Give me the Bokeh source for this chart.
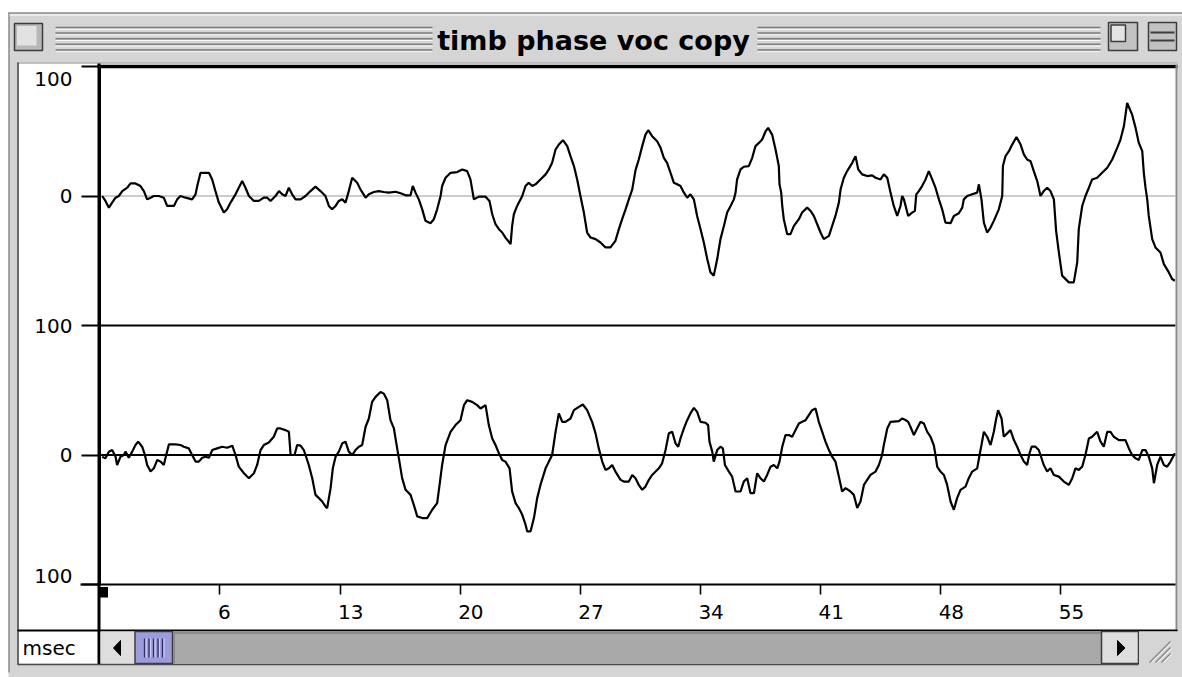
from bokeh.plotting import figure
from bokeh.models import Range1d, LinearAxis, FixedTicker
from bokeh.core.properties import value
from bokeh.embed import file_html
from bokeh.resources import INLINE

# ---------------- data ----------------
title_text = "timb phase voc copy"
x_unit_label = "msec"
x_tick_values = [6, 13, 20, 27, 34, 41, 48, 55]
x_tick_labels = ["6", "13", "20", "27", "34", "41", "48", "55"]
# stacked display: upper channel centred at +100, lower channel centred at -100
y_tick_values = [200, 100, 0, -100, -200]
y_tick_labels = ["100", "0", "100", "0", "100"]

upper_ms = [
    -0.86, -0.67, -0.47, -0.28, -0.08, 0.11, 0.31, 0.60, 0.79, 1.08,
    1.37, 1.57, 1.76, 1.96, 2.15, 2.44, 2.73, 2.93, 3.32, 3.51,
    3.70, 4.00, 4.38, 4.58, 4.68, 4.87, 5.36, 5.55, 5.74, 5.94,
    6.23, 6.42, 6.62, 6.91, 7.10, 7.30, 7.49, 7.69, 7.98, 8.27,
    8.56, 8.76, 8.95, 9.24, 9.44, 9.63, 9.82, 10.02, 10.21, 10.41,
    10.70, 10.99, 11.28, 11.57, 11.86, 12.15, 12.35, 12.54, 12.74, 12.93,
    13.13, 13.32, 13.51, 13.71, 14.00, 14.19,
    14.49, 14.68, 14.97, 15.26, 15.55, 15.85, 16.23, 16.53, 16.82, 17.11,
    17.24, 17.40, 17.59, 17.79, 17.98, 18.27, 18.47, 18.66, 18.86, 18.95,
    19.15, 19.44, 19.83, 20.12, 20.41, 20.60, 20.70, 20.80, 21.09, 21.48,
    21.71, 21.87, 22.06, 22.26, 22.45, 22.64, 22.94, 23.03, 23.13, 23.32,
    23.62, 23.81, 24.00, 24.20, 24.39, 24.68, 24.98, 25.17, 25.36, 25.56,
    25.75, 25.99, 26.24, 26.43, 26.63, 26.82, 27.01, 27.21, 27.40, 27.60,
    27.89, 28.18, 28.47, 28.76, 29.05, 29.25, 29.44, 29.64, 29.83, 30.03,
    30.22, 30.41, 30.61, 30.80, 30.96, 31.19, 31.48, 31.68, 31.87, 32.06,
    32.26, 32.45, 32.65, 32.84, 33.04, 33.23, 33.42, 33.62, 33.81, 34.01,
    34.20, 34.40, 34.59, 34.78, 34.98, 35.17, 35.37, 35.56, 35.76, 35.95,
    36.05, 36.14, 36.34, 36.53, 36.82, 37.02, 37.21, 37.41, 37.60, 37.80,
    37.95, 38.18, 38.38, 38.57, 38.61, 38.71, 38.77, 38.86, 39.06, 39.25,
    39.45, 39.74, 39.93, 40.22, 40.42, 40.61, 40.81, 41.00, 41.19, 41.49,
    41.68, 41.87, 42.07, 42.17, 42.36, 42.55, 42.85, 43.04, 43.20, 43.43,
    43.72, 44.01, 44.21, 44.50, 44.69, 44.89, 45.08, 45.27, 45.47, 45.66,
    45.76, 45.86,
    46.11, 46.34, 46.50, 46.58, 46.73, 46.92, 47.12, 47.31, 47.51, 47.70,
    47.90, 48.09, 48.28, 48.58, 48.77, 49.06, 49.26, 49.35, 49.55, 49.84,
    50.13, 50.23, 50.38, 50.52, 50.71, 50.91, 51.10, 51.39, 51.59, 51.63,
    51.78, 51.98, 52.17, 52.42, 52.66, 52.85, 53.04, 53.24, 53.43, 53.63,
    53.82, 54.01, 54.21, 54.40, 54.60, 54.73, 54.89, 55.08, 55.47, 55.76,
    55.96, 56.05, 56.25, 56.44, 56.64, 56.83, 57.12, 57.41, 57.71, 58.00,
    58.29, 58.48, 58.68, 58.87, 59.16, 59.36, 59.55, 59.75, 59.84, 59.94,
    60.04, 60.13, 60.33, 60.52, 60.81, 61.01, 61.30, 61.49, 61.65,
]
upper_amp = [
    0, -3.8, -9, -5.1, -1.3, 0, 3.8, 6.4, 9.7, 9.7,
    7.7, 3.8, -2.6, -1.3, 0, 0, -1.3, -7.7, -7.7, -2.6,
    0, -1.3, -2.6, 1.3, 7.7, 17.9, 17.9, 12.8, 3.8, -5.1,
    -12.8, -10.3, -5.1, 1.3, 6.4, 11.5, 6.4, 0, -3.8, -3.8,
    -1.3, -1.3, -3.8, 0, 3.8, 1.3, 0, 6.4, 1.3, -2.6,
    -2.6, 0, 3.8, 7.2, 3.8, 0, -7.7, -10.3, -7.7, -3.8,
    -2.6, -5.1, 3.8, 14.1, 10.3, 5.1,
    -1.3, 1.3, 3.1, 3.8, 3.1, 2.6, 3.3, 2.1, 0.5, 0.5,
    7.7, 2.6, -2.6, -10.3, -19.2, -21, -17.9, -10.3, 0, 7.7,
    14.1, 17.9, 18.5, 20.5, 19.2, 12.8, 5.1, -2.6, -0.5, -0.5,
    -3.8, -14.1, -21.8, -25.6, -28.2, -32.1, -37.2, -23.1, -14.1, -7.7,
    0, 7.7, 10.3, 7.7, 9, 12.8, 16.7, 20.5, 25.6, 35.9,
    39.7, 43.1, 38.5, 30.8, 23.1, 12.8, 0, -12.8, -28.2, -32.1,
    -33.3, -35.9, -39.7, -39.7, -34.6, -25.6, -17.9, -10.3, -2.6, 5.1,
    20, 28.2, 38.5, 47.4, 50.8, 46.2, 42.3, 37.2, 29.5, 25.6,
    17.9, 10.3, 9, 7.7, 2.6, -1.3, 1.3, -2.6, -15.4, -25.6,
    -35.9, -48.7, -59, -61.5, -48.7, -33.3, -23.1, -12.8, -7.7, -2.6,
    2.6, 12.8, 20.5, 22.6, 23.1, 29.5, 38.5, 41, 43.6, 50,
    52.6, 47.4, 35.9, 23.1, 9, 2.6, -7.7, -17.9, -29.5, -29.5,
    -23.1, -17.9, -12.8, -9, -11.5, -15.4, -21.8, -28.2, -33.3, -30.8,
    -23.1, -15.4, -5.1, 5.1, 14.1, 19.2, 25.6, 30.8, 20.5, 16.7,
    15.4, 15.9, 14.1, 12.8, 16.7, 14.1, 2.6, -7.7, -15.4, -7.7,
    0, -2.6,
    -15.4, -12.8, -11.5, 1.3, 3.8, 7.7, 12.8, 19.2, 12.8, 6.4,
    -2.6, -10.3, -20.5, -21, -15.4, -13.3, -9, -2.6, 0, 1.3,
    2.6, 9, -2.6, -20.5, -28.2, -24.4, -19.2, -10.3, 0, 23.1,
    30.8, 34.6, 39.7, 45.6, 39.7, 32.1, 28.2, 26.9, 19.2, 11.5,
    0, 3.8, 6.4, 3.8, -2.6, -26.9, -43.6, -61.5, -66.7, -66.7,
    -51.3, -25.6, -7.7, 0, 6.4, 12.8, 14.1, 17.9, 21.8, 28.2,
    37.2, 43.6, 53.8, 71.8, 62.8, 52.6, 41, 34.6, 17.9, 6.4,
    -2.6, -15.4, -33.3, -39.7, -43.6, -52.6, -59, -64.1, -65.4,
]

lower_ms = [
    -0.86, -0.67, -0.47, -0.28, -0.08, 0.01, 0.21, 0.40, 0.50, 0.69,
    0.89, 1.08, 1.24, 1.47, 1.63, 1.76, 1.96, 2.15, 2.35, 2.54,
    2.73, 2.87, 3.03, 3.41, 3.70, 3.90, 4.19, 4.38, 4.58, 4.77,
    4.97, 5.16, 5.36, 5.55, 5.84, 6.13, 6.42, 6.72, 6.91, 7.10,
    7.40, 7.69, 7.98, 8.17, 8.37, 8.56, 8.85, 9.14, 9.34, 9.53,
    9.82, 10.02, 10.12, 10.35, 10.50, 10.70, 10.89, 10.99, 11.18, 11.38,
    11.57, 11.77, 11.96, 12.15, 12.25, 12.45, 12.58, 12.74, 12.93, 13.13,
    13.32, 13.51, 13.71, 13.90, 14.10, 14.29,
    14.49, 14.68, 14.87, 15.07, 15.36, 15.55, 15.75, 15.94, 16.14, 16.33,
    16.43, 16.62, 16.82, 17.11, 17.30, 17.50, 17.79, 18.08, 18.37, 18.66,
    18.80, 18.95, 19.15, 19.44, 19.73, 20.02, 20.22, 20.41, 20.70, 20.99,
    21.19, 21.48, 21.67, 21.87, 22.06, 22.26, 22.45, 22.64, 22.88, 23.03,
    23.23, 23.42, 23.62, 23.81, 23.91, 24.10, 24.30, 24.49, 24.68, 24.98,
    25.17, 25.36, 25.56, 25.75, 25.95, 26.14, 26.43, 26.63, 26.92, 27.15,
    27.40, 27.69, 27.89, 28.08, 28.28, 28.47, 28.67, 28.86, 29.05, 29.35,
    29.54, 29.83, 30.03,
    30.22, 30.41, 30.61, 30.80, 31.00, 31.19, 31.39, 31.58, 31.77, 31.97,
    32.16, 32.36, 32.55, 32.71, 32.84, 33.04, 33.23, 33.42, 33.62, 33.81,
    34.01, 34.30, 34.45, 34.53, 34.69, 34.78, 34.98, 35.17, 35.31, 35.43,
    35.66, 35.85, 36.05, 36.34, 36.53, 36.73, 36.92, 37.12, 37.31, 37.50,
    37.70, 37.89, 38.09, 38.28, 38.48, 38.61, 38.77, 38.96, 39.16, 39.35,
    39.54, 39.74, 39.93, 40.13, 40.32, 40.51, 40.71, 40.90, 41.10, 41.29,
    41.49, 41.68, 41.87, 42.07, 42.26, 42.46, 42.75, 42.94, 43.14, 43.33,
    43.53, 43.72, 43.91, 44.21, 44.40, 44.59, 44.69, 44.89, 45.08, 45.57,
    45.76,
    45.95, 46.11, 46.24, 46.44, 46.63, 46.83, 47.02, 47.22, 47.41, 47.60,
    47.70, 47.80, 47.99, 48.19, 48.38, 48.58, 48.77, 48.96, 49.16, 49.45,
    49.64, 49.84, 50.13, 50.27, 50.38, 50.52, 50.71, 50.91, 51.10, 51.24,
    51.35, 51.55, 51.68, 51.88, 52.07, 52.27, 52.46, 52.66, 52.85, 53.04,
    53.18, 53.30, 53.53, 53.72, 53.82, 54.01, 54.21, 54.40, 54.60, 54.89,
    55.18, 55.47, 55.67, 55.86, 56.05, 56.25, 56.44, 56.64, 56.83, 57.12,
    57.32, 57.51, 57.71, 57.90, 58.09, 58.39, 58.77, 58.97, 59.16, 59.36,
    59.55, 59.75, 59.94, 60.13, 60.33, 60.43, 60.62, 60.81, 61.01, 61.20,
    61.40, 61.65,
]
lower_amp = [
    -1.3, -2.6, 2.6, 3.8, -1.3, -7.7, -1.3, 0, 2.6, -2.1,
    2.6, 7.7, 10.3, 6.4, 0, -7.7, -12.8, -10.3, -3.8, -5.1,
    -7.7, 0, 8.2, 8.2, 7.7, 6.4, 5.1, 0, -5.1, -5.1,
    -2.1, -1.3, -2.1, 3.8, 5.1, 6.4, 5.6, 7.2, 0, -9,
    -14.1, -17.9, -14.1, -7.7, 3.8, 7.7, 9.7, 14.1, 20.5, 20.5,
    19.2, 17.9, 0, 0, 7.7, 7.2, 3.8, 0, -7.7, -17.9,
    -30.8, -33.3, -35.9, -39.7, -41, -25.6, -10.3, -1.3, 2.6, 9,
    10.3, 2.6, 0, 3.8, 6.4, 7.7,
    21.8, 28.2, 41, 44.9, 48.7, 47.4, 42.3, 26.9, 20.5, 5.1,
    -2.6, -17.9, -26.9, -30.8, -38.5, -47.4, -48.7, -48.7, -42.3, -37.2,
    -23.1, -7.7, 7.7, 17.9, 23.1, 26.9, 38.5, 42.3, 41, 38.5,
    35.9, 38.5, 23.1, 12.8, 7.7, 1.3, -3.8, -5.1, -10.3, -28.2,
    -37.2, -41, -46.2, -53.8, -59, -59, -48.7, -33.3, -23.1, -10.3,
    -5.1, 0, 17.9, 32.1, 25.6, 25.6, 28.2, 34.6, 37.2, 39,
    34.6, 25.6, 16.7, 5.1, -5.1, -11.5, -10.3, -7.7, -12.8, -19.2,
    -20.5, -20.5, -15.4,
    -18, -23.1, -26.9, -24.4, -19.2, -15.4, -12.8, -10.3, -6.4, 3.8,
    16.7, 17.9, 9, 6.4, 12.8, 20.5, 26.9, 32.1, 36.4, 33.3,
    25.6, 24.9, 23.1, 10.3, 2.6, -5.1, 3.8, 6.4, 5.1, -7.7,
    -12.8, -16.7, -28.2, -28.2, -20.5, -17.9, -29.5, -29.5, -14.1, -17.9,
    -20.5, -15.4, -9, -7.7, -10.3, -5.1, 6.4, 15.4, 15.4, 14.1,
    19.2, 24.4, 25.6, 26.9, 30.8, 34.6, 35.9, 25.6, 17.9, 10.3,
    3.8, -1.3, -5.1, -16.7, -28.2, -25.6, -28.2, -30.8, -41, -35.9,
    -23.1, -19.2, -15.4, -12.8, -7.7, 0, 7.7, 20.5, 25.6, 26.2,
    28.2,
    27, 25.6, 21.8, 15.4, 20.5, 25.6, 24.4, 17.9, 14.1, 7.7,
    0, -9, -12.8, -15.4, -23.1, -35.9, -42.3, -33.3, -26.9, -24.4,
    -17.9, -12.8, -10.3, 0, 7.7, 17.9, 14.1, 7.7, 17.9, 28.2,
    34.6, 28.2, 14.1, 16.7, 19.2, 11.5, 6.4, 0, -5.1, -7.7,
    1.3, 6.4, 6.4, 3.8, 0, -7.7, -12.8, -10.3, -15.4, -16.7,
    -20.5, -23.1, -17.9, -10.3, -11.5, -9, 0, 12.8, 14.1, 17.9,
    10.3, 6.4, 17.9, 17.9, 14.1, 11.5, 11.5, 5.1, 0, -2.6,
    -3.8, 3.8, 3.8, -1.3, -10.3, -21.8, -7.7, -1.3, -7.7, -9,
    -5.1, 1.3,
]
assert len(upper_ms) == len(upper_amp), (len(upper_ms), len(upper_amp))
assert len(lower_ms) == len(lower_amp), (len(lower_ms), len(lower_amp))

# ---------------- layout calibration ----------------
W, H = 1182, 677
PX_PER_MS = 17.16
MS_AT_LEFT = -6.786
PX_PER_UNIT = 259 / 200
DIVIDER_PX = 325


def ms_at(px):
    return MS_AT_LEFT + px / PX_PER_MS


def stack_at(py):
    return (DIVIDER_PX - py) / PX_PER_UNIT


p = figure(width=W, height=H, output_backend="svg", toolbar_location=None,
           x_range=Range1d(ms_at(0), ms_at(W)),
           y_range=Range1d(stack_at(H), stack_at(0)),
           x_axis_location=None, y_axis_location=None, min_border=0,
           outline_line_color=None, background_fill_color="white",
           border_fill_color="white")
p.grid.visible = False
p.extra_x_ranges = {"px": Range1d(0, W)}
p.extra_y_ranges = {
    "px": Range1d(H, 0),
    "upper": Range1d(stack_at(H) - 100, stack_at(0) - 100),
    "lower": Range1d(stack_at(H) + 100, stack_at(0) + 100),
}

PX = dict(x_range_name="px", y_range_name="px")
FONT = value("DejaVu Sans")


def box(x0, y0, x1, y1, fill, line=None, lw=1.0):
    p.quad(left=[x0], right=[x1], top=[y0], bottom=[y1], fill_color=fill,
           line_color=line, line_width=lw, **PX)


def seg(x0, y0, x1, y1, color, lw=1.0):
    p.segment(x0=[x0], y0=[y0], x1=[x1], y1=[y1], line_color=color,
              line_width=lw, **PX)


# ---------------- window chrome ----------------
box(8, 12, W, H, "#d5d5d5")
seg(8, 12.5, W, 12.5, "#6a6a6a", 1.2)
seg(8.5, 12, 8.5, 672, "#7a7a7a", 1.2)
seg(9, 14.5, W, 14.5, "#f2f2f2", 1.5)
for sy in [27, 32.6, 38.2, 43.8, 49.4]:
    for (a, b) in [(55, 432), (757, 1100)]:
        seg(a, sy, b, sy, "#7c7c7c", 1.5)
        seg(a, sy + 1.8, b, sy + 1.8, "#fafafa", 1.0)
# close box
box(14, 23, 42, 50, "#b8b8b8", "#3c3c3c", 1.5)
box(16.5, 25.5, 36, 45, "#e2e2e2")
# zoom box
box(1108, 22, 1137, 50, "#c2c2c2", "#3c3c3c", 1.5)
box(1110.5, 24.5, 1125, 41, "#e4e4e4", "#3c3c3c", 1.5)
# collapse box
box(1148, 22, 1176, 50, "#c2c2c2", "#3c3c3c", 1.5)
seg(1150, 32, 1174, 32, "#3c3c3c", 1.8)
seg(1150, 40, 1174, 40, "#3c3c3c", 1.8)
p.text(x=[593], y=[40], text=[title_text], text_align="center",
       text_baseline="middle", text_font=value("DejaVu Sans"),
       text_font_style="bold", text_font_size="27px", text_color="black", **PX)

# content area
box(17, 62, 1177, 663, "white")
seg(17, 62.5, 1177, 62.5, "#8a8a8a", 1.0)
seg(17.5, 62, 17.5, 664, "#3a3a3a", 1.5)

# ---------------- channel lines ----------------
p.segment(x0=[ms_at(100)], y0=[0], x1=[ms_at(1175)], y1=[0],
          line_color="#9a9a9a", line_width=1.2, y_range_name="upper")
p.segment(x0=[ms_at(100)], y0=[0], x1=[ms_at(1175)], y1=[0],
          line_color="black", line_width=2, y_range_name="lower")
p.segment(x0=[ms_at(98)], y0=[0], x1=[ms_at(1175)], y1=[0],
          line_color="black", line_width=2.2)

p.line(upper_ms, upper_amp, y_range_name="upper", line_color="black",
       line_width=2.2)
p.line(lower_ms, lower_amp, y_range_name="lower", line_color="black",
       line_width=2.2)

# borders
seg(97, 66, 1177, 66, "black", 3.5)
seg(1176, 64, 1176, 631, "#8c8c8c", 2)
seg(98.5, 63, 98.5, 664, "black", 3)
seg(17, 630, 1177, 630, "black", 2)
box(99.5, 586.5, 107.5, 597, "black")

# ---------------- axes ----------------
yaxis = LinearAxis(fixed_location=ms_at(98.5), bounds=(-200, 200),
                   ticker=FixedTicker(ticks=y_tick_values),
                   axis_line_width=3, axis_line_color="black",
                   major_tick_out=18, major_tick_in=0, major_tick_line_width=2,
                   minor_tick_out=0, minor_tick_in=0,
                   major_label_text_color=None)
p.add_layout(yaxis, "left")
xaxis = LinearAxis(fixed_location=-200, bounds=(ms_at(80), ms_at(1175)),
                   ticker=FixedTicker(ticks=x_tick_values),
                   axis_line_width=2, axis_line_color="black",
                   major_tick_out=10, major_tick_in=0, major_tick_line_width=1.6,
                   minor_tick_out=0, minor_tick_in=0,
                   major_label_text_color=None)
p.add_layout(xaxis, "below")

label_y = [y_tick_values[0] - 12 / PX_PER_UNIT, y_tick_values[1], y_tick_values[2],
           y_tick_values[3], y_tick_values[4] + 9 / PX_PER_UNIT]
p.text(x=[ms_at(72)] * len(y_tick_labels), y=label_y, text=y_tick_labels,
       text_align="right", text_baseline="middle", text_font=FONT,
       text_font_size="20px", text_color="black")
p.text(x=x_tick_values, y=[stack_at(611)] * len(x_tick_values), text=x_tick_labels,
       x_offset=-2, text_align="left", text_baseline="middle", text_font=FONT,
       text_font_size="20px", text_color="black")

# ---------------- scroll bar ----------------
p.text(x=[22], y=[647], text=[x_unit_label], text_align="left",
       text_baseline="middle", text_font=FONT, text_font_size="20px",
       text_color="black", **PX)
box(100, 631, 134.5, 663, "#dedede")
p.patch([120, 120, 113], [640, 655, 647.5], fill_color="black", line_color="black", **PX)
box(134.5, 631, 172, 663, "#9c9cda", "#3c3c3c", 1.5)
for gx in [144, 148.5, 153, 157.5, 162]:
    seg(gx, 638, gx, 657, "#2e2e66", 1.3)
    seg(gx + 1.6, 638, gx + 1.6, 657, "#d4d4fa", 1.0)
box(172.5, 631, 1101, 663, "#a9a9a9")
seg(172.5, 632.5, 1101, 632.5, "#8a8a8a", 2)
seg(173.5, 631, 173.5, 663, "#8a8a8a", 2)
box(1101, 631, 1138, 663, "#dedede", "#3c3c3c", 1.5)
p.patch([1117, 1117, 1124.5], [640, 655, 647.5], fill_color="black", line_color="black", **PX)
box(1138.7, 631, W, H, "#d5d5d5")
for d in [0, 6, 12]:
    seg(1149 + d, 662, 1170, 641 + d, "#8a8a8a", 1.4)
    seg(1151 + d, 662, 1171, 642 + d, "#fbfbfb", 1.0)
seg(17, 664, 1138, 664, "#4a4a4a", 1.5)

open("out.html", "w").write(file_html(p, INLINE))
